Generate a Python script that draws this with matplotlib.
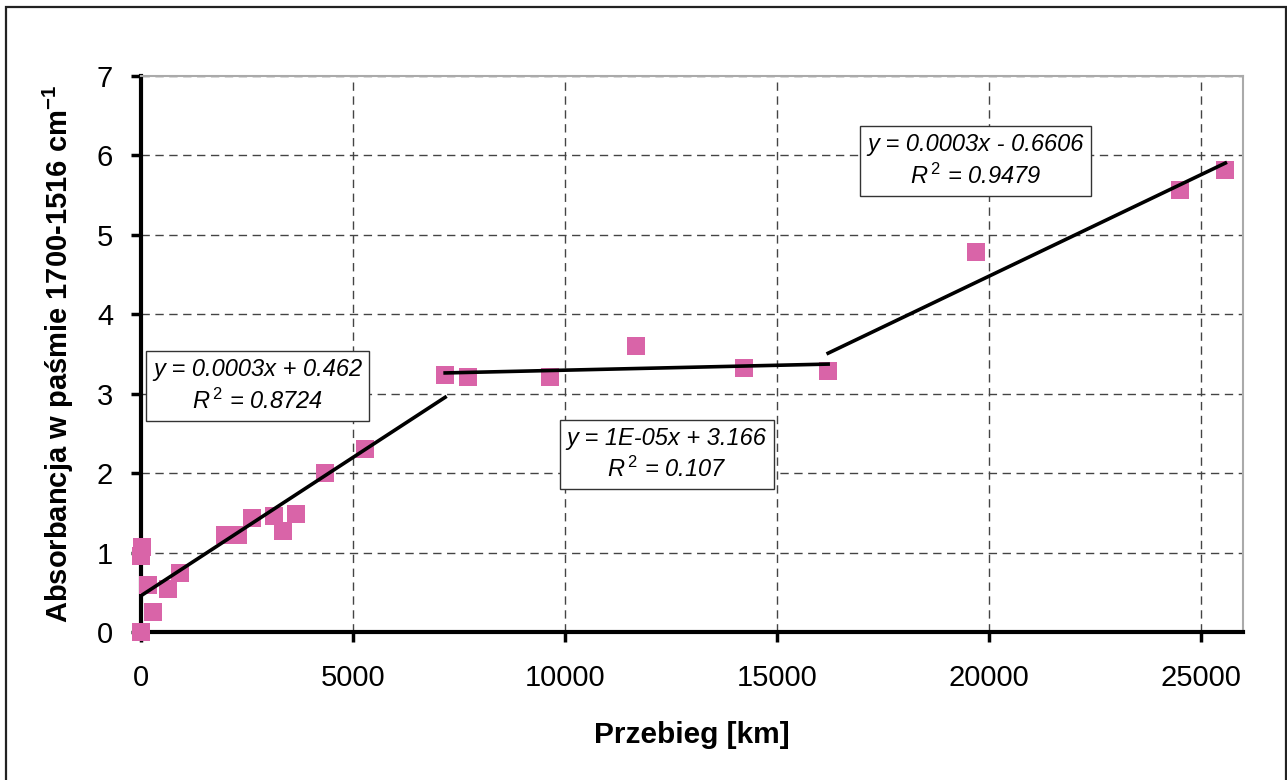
import numpy as np
import matplotlib
matplotlib.use('Agg')
import matplotlib.pyplot as plt
from matplotlib.patches import Rectangle

# ── data ──────────────────────────────────────────────────────────────────────
przebieg = [0, 0, 30, 172, 290, 642, 918, 1993, 2290, 2620, 3137, 3349, 3647,
            4330, 5294, 7176, 7725, 9640, 11678, 14235, 16212, 19702, 24525, 25584]
absorbancja = [0.0, 0.96, 1.07, 0.59, 0.25, 0.54, 0.74, 1.22, 1.22, 1.44, 1.46, 1.27, 1.49,
               2.00, 2.31, 3.24, 3.21, 3.21, 3.60, 3.32, 3.28, 4.78, 5.57, 5.82]

# index ranges (inclusive) of the three trendline segments
segments = [(0, 15), (15, 20), (20, 23)]
equations = ["y = 0.0003x + 0.462", "y = 1E-05x + 3.166", "y = 0.0003x - 0.6606"]
r_squared = ["0.8724", "0.107", "0.9479"]
label_pos = [(0.1057, 0.4424), (0.4769, 0.3189), (0.7571, 0.8473)]  # axes fraction

x_ticks = [0, 5000, 10000, 15000, 20000, 25000]
y_ticks = [0, 1, 2, 3, 4, 5, 6, 7]

# ── style ─────────────────────────────────────────────────────────────────────
plt.rcParams['font.family'] = ['Liberation Sans', 'DejaVu Sans']
plt.rcParams['mathtext.fontset'] = 'custom'
plt.rcParams['mathtext.rm'] = 'Liberation Sans'
plt.rcParams['mathtext.it'] = 'Liberation Sans:italic'
plt.rcParams['mathtext.bf'] = 'Liberation Sans:bold'

fig = plt.figure(figsize=(12.87, 7.8), dpi=100)
ax = fig.add_axes([141 / 1287, 1 - 632 / 780, 1102 / 1287, 556 / 780])

# outer frame of the chart
fig.patches.append(Rectangle((6 / 1287, -0.02), 1280 / 1287, 1.02 - 7 / 780,
                             transform=fig.transFigure, fill=False,
                             edgecolor='#222222', linewidth=1.6))

x = np.array(przebieg, dtype=float)
y = np.array(absorbancja, dtype=float)

ax.plot(x, y, linestyle='none', marker='s', markersize=12.5, color='#D964A8',
        markeredgewidth=0, clip_on=False, zorder=3)

for (i0, i1), eq, r2, pos in zip(segments, equations, r_squared, label_pos):
    xs = x[i0:i1 + 1]
    ys = y[i0:i1 + 1]
    k, b = np.polyfit(xs, ys, 1)
    xl = np.array([xs.min(), xs.max()])
    ax.plot(xl, k * xl + b, color='black', linewidth=2.6, zorder=4)
    ax.text(pos[0], pos[1], f"{eq}\n$R^{{\\,2}}$ = {r2}", transform=ax.transAxes,
            ha='center', va='center', fontsize=17, style='italic', linespacing=1.35,
            bbox=dict(boxstyle='square,pad=0.3', facecolor='white',
                      edgecolor='#333333', linewidth=1.0), zorder=5)

ax.set_xlim(0, 26000)
ax.set_ylim(0, 7)
ax.set_xticks(x_ticks)
ax.set_yticks(y_ticks)
ax.tick_params(axis='both', labelsize=21, length=7, width=2.5, direction='out')
ax.tick_params(axis='x', pad=16)
ax.tick_params(axis='y', pad=13)

ax.grid(True, color='#444444', linestyle=(0, (6, 4)), linewidth=1.0)
ax.set_axisbelow(True)

for side in ['left', 'bottom']:
    ax.spines[side].set_linewidth(3)
    ax.spines[side].set_color('black')
for side in ['top', 'right']:
    ax.spines[side].set_linewidth(1.5)
    ax.spines[side].set_color('#AAAAAA')

ax.set_xlabel("Przebieg [km]", fontsize=21.5, fontweight='bold', labelpad=21)
ax.set_ylabel("Absorbancja w paśmie 1700-1516 cm$^{\\mathbf{-1}}$", fontsize=21,
              fontweight='bold', labelpad=15)

fig.savefig('out.png', dpi=100)
